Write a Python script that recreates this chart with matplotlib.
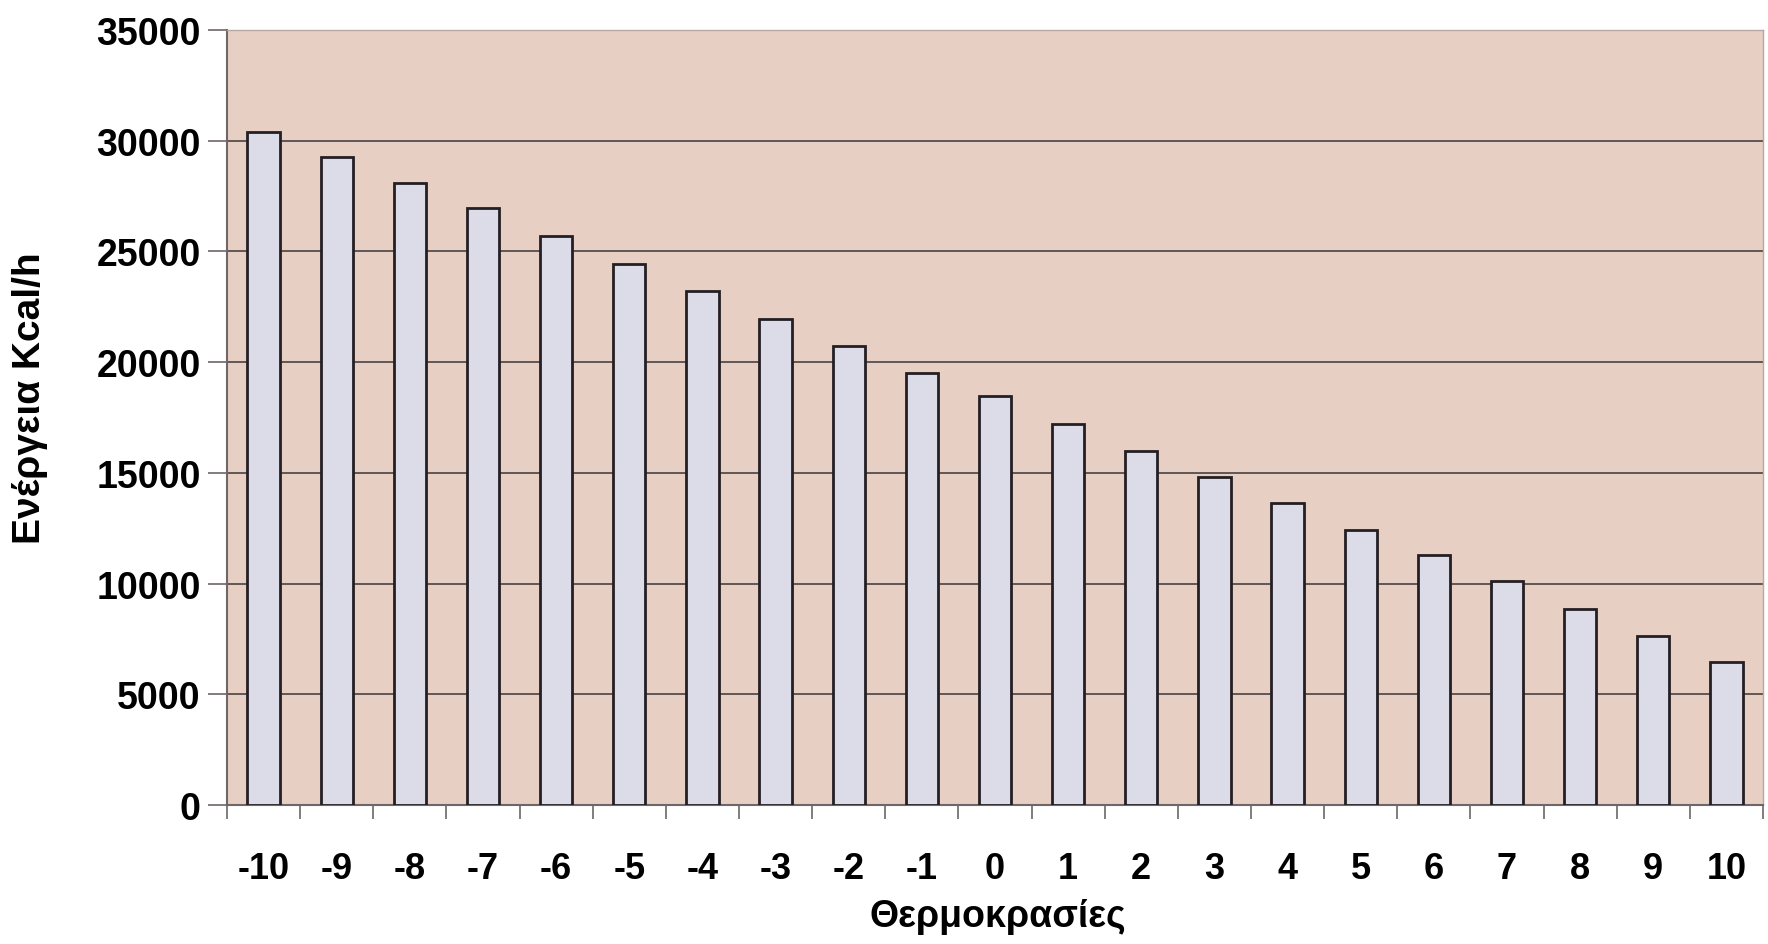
import numpy as np
import matplotlib.pyplot as plt
from matplotlib.ticker import FixedLocator, NullFormatter, FixedFormatter

# Θερμοκρασίες (°C) and required energy (Kcal/h)
temperatures = list(range(-10, 11))
energy = [30400, 29250, 28100, 26950, 25700, 24450, 23200, 21950, 20750, 19500,
          18450, 17200, 16000, 14800, 13650, 12400, 11300, 10100, 8850, 7650, 6450]
y_ticks = [0, 5000, 10000, 15000, 20000, 25000, 30000, 35000]

plt.rcParams["font.family"] = ["Liberation Sans", "DejaVu Sans"]

fig = plt.figure(figsize=(17.68, 9.45), dpi=100)
ax = fig.add_axes([227 / 1768, 1 - 806 / 945, (1763 - 227) / 1768, (806 - 31) / 945])
ax.set_facecolor("#e8cfc4")

x = np.arange(len(temperatures))
ax.bar(x, energy, width=0.44, color="#dcdbe8", edgecolor="#231f24", linewidth=2.0, zorder=3)

ax.set_xlim(-0.5, len(temperatures) - 0.5)
ax.set_ylim(0, 35000)
ax.set_yticks(y_ticks)
ax.set_yticklabels([str(v) for v in y_ticks])
ax.yaxis.grid(True, color="#4a4244", linewidth=1.2, zorder=1)

# Excel-style category axis: ticks at boundaries, labels at centres
ax.xaxis.set_major_locator(FixedLocator(np.arange(-0.5, len(temperatures), 1.0)))
ax.xaxis.set_major_formatter(NullFormatter())
ax.xaxis.set_minor_locator(FixedLocator(x))
ax.xaxis.set_minor_formatter(FixedFormatter([str(t) for t in temperatures]))
ax.tick_params(axis="x", which="major", length=10, width=1.2, color="#6e6668")
ax.tick_params(axis="x", which="minor", length=0, pad=33, labelsize=26)
ax.tick_params(axis="y", length=14, width=1.2, color="#6e6668", pad=5, labelsize=27)
for lbl in ax.get_xticklabels(minor=True) + ax.get_yticklabels():
    lbl.set_fontweight("bold")

for side in ["left", "bottom"]:
    ax.spines[side].set_color("#6e6668")
    ax.spines[side].set_linewidth(1.5)
for side in ["top", "right"]:
    ax.spines[side].set_color("#b8a8a4")
    ax.spines[side].set_linewidth(1.0)

fig.text(998 / 1768, 1 - 917 / 945, "Θερμοκρασίες", ha="center", va="center",
         fontsize=27, fontweight="bold")
fig.text(30 / 1768, 1 - 398 / 945, "Ενέργεια Kcal/h", ha="center", va="center",
         rotation=90, fontsize=28, fontweight="bold")

fig.savefig("out.png", dpi=100)
